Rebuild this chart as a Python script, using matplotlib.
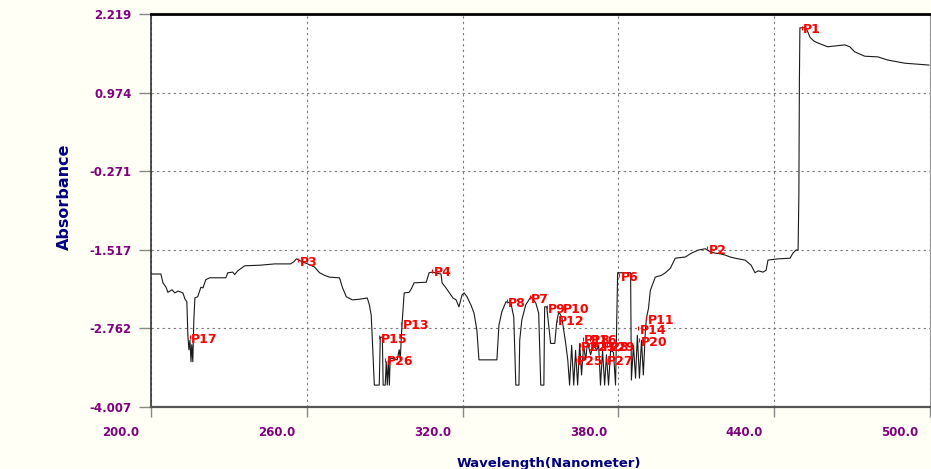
import matplotlib.pyplot as plt
import matplotlib.transforms as mtransforms
import numpy as np

# --- Spectrum trace (wavelength in nm, absorbance) ---
wavelength = [
    200.0, 203.8, 204.6, 205.8, 206.5, 208.1, 209.2, 210.4, 212.3, 213.1,
    213.8, 214.2, 214.6, 215.0, 215.4, 215.7, 216.1, 216.5, 216.9, 218.0,
    219.2, 220.0, 221.1, 222.6, 228.8, 229.6, 231.5, 232.2, 233.4, 236.1,
    242.2, 247.6, 249.9, 253.7, 254.9, 256.0, 258.4, 260.3, 263.0, 264.9,
    266.8, 268.7, 272.6, 273.7, 275.2, 277.5, 280.2, 283.3, 284.1, 284.8,
    285.2, 286.0, 287.9, 288.3, 289.1, 289.4, 290.2, 290.6, 291.0, 291.4,
    291.8, 292.1, 294.8, 295.6, 296.0, 296.4, 296.7, 297.5, 299.4, 300.2,
    301.3, 306.0, 307.1, 308.3, 311.7, 312.1, 313.6, 314.8, 316.3, 317.5,
    318.6, 319.8, 320.6, 321.7, 323.2, 324.4, 325.5, 326.3, 333.2, 334.0,
    335.1, 336.7, 338.6, 339.7, 340.5, 341.7, 342.0, 342.8, 344.3, 346.3,
    348.2, 349.3, 350.1, 351.3, 351.6, 352.4, 353.9, 355.5, 356.2, 357.0,
    358.2, 359.7, 360.5, 361.2, 362.0, 362.8, 363.5, 364.3, 365.1, 365.8,
    366.6, 367.4, 368.1, 369.3, 370.4, 371.6, 372.4, 373.1, 373.9, 374.7,
    375.4, 376.2, 377.0, 378.1, 378.9, 379.7, 384.7, 385.0, 385.8, 386.6,
    387.3, 388.1, 388.9, 389.6, 390.4, 390.8, 391.6, 392.3, 393.5, 394.2,
    396.6, 398.1, 400.0, 401.9, 405.8, 408.1, 410.8, 413.5, 415.4, 417.3,
    419.2, 421.1, 423.0, 425.0, 428.8, 431.1, 432.6, 433.8, 435.7, 436.9,
    437.6, 441.5, 446.1, 447.2, 448.4, 449.2, 449.5, 449.7, 449.9, 452.2,
    453.0, 453.8, 455.3, 456.8, 460.6, 467.2, 469.1, 471.0, 474.9, 479.9,
    483.7, 490.2, 499.6,
]
absorbance = [
    -1.90, -1.90, -2.04, -2.11, -2.19, -2.15, -2.20, -2.17, -2.20, -2.30,
    -2.34, -2.87, -3.10, -2.95, -3.29, -3.02, -3.29, -2.63, -2.28, -2.26,
    -2.11, -2.12, -1.99, -1.96, -1.96, -1.88, -1.87, -1.91, -1.85, -1.77,
    -1.76, -1.74, -1.74, -1.74, -1.71, -1.66, -1.71, -1.74, -1.79, -1.88,
    -1.92, -1.95, -1.96, -2.11, -2.26, -2.31, -2.30, -2.28, -2.39, -2.55,
    -2.90, -3.66, -3.66, -2.90, -2.90, -3.66, -3.66, -3.29, -3.66, -3.26,
    -3.66, -3.23, -3.26, -3.10, -3.26, -2.90, -2.68, -2.20, -2.19, -2.14,
    -2.04, -2.03, -1.88, -1.87, -1.90, -2.04, -2.12, -2.19, -2.28, -2.31,
    -2.42, -2.23, -2.20, -2.26, -2.39, -2.52, -2.79, -3.26, -3.26, -2.71,
    -2.50, -2.34, -2.36, -2.58, -3.66, -3.66, -2.95, -2.63, -2.39, -2.26,
    -2.36, -2.52, -3.66, -3.66, -2.42, -2.42, -3.00, -3.00, -2.68, -2.50,
    -2.58, -3.00, -3.26, -3.66, -3.03, -3.66, -3.11, -3.66, -3.00, -3.50,
    -3.03, -3.26, -2.98, -3.18, -3.00, -3.11, -3.03, -3.66, -3.11, -3.66,
    -3.18, -3.66, -3.11, -3.14, -3.66, -1.88, -1.88, -3.58, -3.03, -3.55,
    -2.87, -3.55, -2.95, -3.50, -2.79, -2.60, -2.44, -2.16, -2.03, -1.95,
    -1.92, -1.88, -1.81, -1.65, -1.63, -1.57, -1.52, -1.50, -1.55, -1.57,
    -1.58, -1.60, -1.63, -1.65, -1.68, -1.76, -1.88, -1.85, -1.87, -1.84,
    -1.68, -1.66, -1.65, -1.57, -1.52, -1.52, -0.65, 1.14, 2.00, 2.00,
    1.93, 1.85, 1.79, 1.76, 1.70, 1.73, 1.70, 1.62, 1.55, 1.54,
    1.49, 1.44, 1.41,
]

# --- Peak labels ---
peak_names = ["P1", "P2", "P3", "P4", "P6", "P7", "P8", "P9", "P10", "P11",
              "P12", "P13", "P14", "P15", "P18", "P16", "P17", "P20", "P22",
              "P23", "P29", "P25", "P26", "P27", "P28"]
peak_x = [450.7, 414.2, 256.8, 308.3, 380.4, 345.9, 337.0, 352.4, 358.2, 390.8,
          356.3, 296.4, 387.7, 287.9, 366.2, 368.9, 215.0, 388.1, 365.1,
          368.5, 375.8, 363.5, 290.2, 375.1, 373.5]
peak_y = [1.97, -1.52, -1.71, -1.88, -1.95, -2.30, -2.36, -2.46, -2.46, -2.63,
          -2.66, -2.72, -2.79, -2.93, -2.96, -2.96, -2.93, -2.98, -3.06,
          -3.06, -3.06, -3.29, -3.29, -3.29, -3.06]

y_ticks = [2.219, 0.974, -0.271, -1.517, -2.762, -4.007]
x_ticks = [200.0, 260.0, 320.0, 380.0, 440.0, 500.0]

tick_color = "#800080"
title_color = "#000080"

fig = plt.figure(figsize=(9.31, 4.69), dpi=100, facecolor="#fffff6")
ax = fig.add_axes([151 / 931, 62 / 469, 779 / 931, 393 / 469])
ax.set_facecolor("white")

ax.plot(wavelength, absorbance, color="#1a1a1a", linewidth=0.8)

for name, px, py in zip(peak_names, peak_x, peak_y):
    ax.plot([px], [py + 0.03], marker="|", color="red", markersize=3, markeredgewidth=0.8)
    ax.text(px + 0.5, py, name, color="red", fontsize=9, fontweight="bold",
            ha="left", va="center", family="DejaVu Sans")

ax.set_xlim(200, 500)
ax.set_ylim(-4.007, 2.219)
ax.set_xticks(x_ticks)
ax.set_yticks(y_ticks)
ax.set_xticklabels([])
ax.set_yticklabels([f"{v:.3f}" for v in y_ticks])

# wavelength labels are drawn left of their ticks
xlab_trans = mtransforms.blended_transform_factory(ax.transData, ax.transAxes) + \
    mtransforms.ScaledTranslation(-30 / 100, -25 / 100, fig.dpi_scale_trans)
for v in x_ticks:
    ax.text(v, 0, f"{v:.1f}", transform=xlab_trans, ha="center", va="center",
            color=tick_color, fontsize=8.5, fontweight="bold", family="DejaVu Sans")

for lbl in ax.get_yticklabels():
    lbl.set_color(tick_color)
    lbl.set_fontweight("bold")
    lbl.set_fontsize(8.5)
    lbl.set_family("DejaVu Sans")

ax.tick_params(axis="y", length=8.6, width=1, color="#888888", pad=5.5)
ax.tick_params(axis="x", length=7.2, width=1, color="#888888")

ax.grid(True, color="#777777", linestyle=(0, (2, 3)), linewidth=0.8)

ax.spines["top"].set_linewidth(2)
ax.spines["top"].set_color("black")
ax.spines["left"].set_linewidth(1.2)
ax.spines["left"].set_color("#333333")
ax.spines["bottom"].set_linewidth(1.6)
ax.spines["bottom"].set_color("#555555")
ax.spines["right"].set_linewidth(0.8)
ax.spines["right"].set_color("#999999")

ax.set_xlabel("Wavelength(Nanometer)", color=title_color, fontsize=9.5,
              fontweight="bold", family="DejaVu Sans")
ax.xaxis.set_label_coords((549 - 151) / 779, (407 - 457) / 393)
ax.set_ylabel("Absorbance", color=title_color, fontsize=11.5,
              fontweight="bold", family="DejaVu Sans")
ax.yaxis.set_label_coords((72 - 151) / 779, (407 - 197) / 393)

fig.savefig("out.png", dpi=100, facecolor=fig.get_facecolor())
